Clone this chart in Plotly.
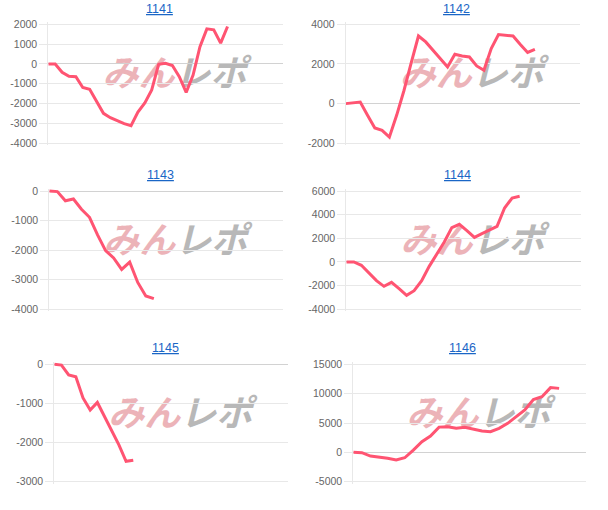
import plotly.graph_objects as go
from plotly.subplots import make_subplots

# machine numbers (chart titles)
MACHINES = ["1141", "1142", "1143", "1144", "1145", "1146"]

# cumulative difference per game day
DIFF_1141 = [0, 0, -420, -620, -640, -1190, -1280, -1880, -2490, -2710, -2880,
             -3010, -3110, -2430, -1960, -1310, -20, 30, -80, -640, -1430, -560,
             870, 1770, 1720, 1050, 1890]
DIFF_1142 = [0, 30, 80, -590, -1230, -1350, -1690, -590, 650, 2050, 3410, 3110,
             2690, 2270, 1850, 2490, 2400, 2350, 1900, 1680, 2780, 3480, 3450,
             3410, 2980, 2580, 2740]
DIFF_1143 = [0, -20, -330, -270, -620, -890, -1490, -2020, -2270, -2660, -2410,
             -3100, -3560, -3650]
DIFF_1144 = [0, 0, -280, -930, -1580, -2060, -1720, -2260, -2820, -2430, -1580,
             -370, 680, 1690, 2900, 3180, 2650, 2080, 2390, 2730, 3010, 4560,
             5410, 5550]
DIFF_1145 = [0, -20, -270, -320, -860, -1170, -975, -1340, -1680, -2060, -2480,
             -2450]
DIFF_1146 = [0, -60, -630, -800, -1020, -1310, -920, 390, 1810, 2780, 4300, 4370,
             4090, 4260, 3920, 3630, 3510, 4090, 4940, 6070, 7210, 9000, 9480,
             11030, 10900]

# y tick labels of each chart
TICKS_1141 = [-4000, -3000, -2000, -1000, 0, 1000, 2000]
TICKS_1142 = [-2000, 0, 2000, 4000]
TICKS_1143 = [-4000, -3000, -2000, -1000, 0]
TICKS_1144 = [-4000, -2000, 0, 2000, 4000, 6000]
TICKS_1145 = [-3000, -2000, -1000, 0]
TICKS_1146 = [-5000, 0, 5000, 10000, 15000]

SERIES = [DIFF_1141, DIFF_1142, DIFF_1143, DIFF_1144, DIFF_1145, DIFF_1146]
TICKS = [TICKS_1141, TICKS_1142, TICKS_1143, TICKS_1144, TICKS_1145, TICKS_1146]

W, H = 608, 510
# plot boxes in pixels: left, right, top, bottom
BOXES = [
    (48.3, 282.7, 24.3, 143.3),
    (345.7, 580.0, 24.3, 143.3),
    (49.3, 283.3, 191.0, 309.0),
    (346.3, 580.7, 191.0, 309.3),
    (54.3, 288.3, 364.3, 481.7),
    (353.3, 585.7, 364.3, 481.7),
]
X_SPAN = [34, 32.2, 29.1, 31.1, 32.6, 27.1]
TITLE_XY = [(159.3, 9), (456.3, 9), (160.3, 175), (457.3, 175.3),
            (165.7, 348.3), (462.3, 348.3)]

LINE_COLOR = "rgb(255, 84, 114)"
GRID = "#e8e8e8"
ZERO = "#d2d2d2"
FONT = "Liberation Sans, Arial, sans-serif"
PAD = 2  # px, keeps the thick line from being clipped at the edges

fig = make_subplots(rows=3, cols=2)

for i, (name, vals, ticks) in enumerate(zip(MACHINES, SERIES, TICKS)):
    row, col = i // 2 + 1, i % 2 + 1
    fig.add_trace(go.Scatter(
        x=list(range(len(vals))),
        y=vals,
        mode="lines",
        line=dict(color=LINE_COLOR, width=3),
        name=name,
        hoverinfo="y",
        showlegend=False,
    ), row=row, col=col)

    left, right, top, bottom = BOXES[i]
    ax = "" if i == 0 else str(i + 1)
    per_px = (ticks[-1] - ticks[0]) / (bottom - top)

    fig.layout["xaxis" + ax].update(
        domain=[left / W, right / W],
        range=[0, X_SPAN[i]],
        visible=False,
        automargin=False,
        fixedrange=True,
    )
    fig.layout["yaxis" + ax].update(
        domain=[1 - (bottom + PAD) / H, 1 - (top - PAD) / H],
        range=[ticks[0] - PAD * per_px, ticks[-1] + PAD * per_px],
        tickvals=ticks,
        ticktext=[str(t) for t in ticks],
        showgrid=True,
        gridcolor=GRID,
        gridwidth=1,
        zeroline=True,
        zerolinecolor=ZERO,
        zerolinewidth=1,
        showline=True,
        linecolor=GRID,
        ticks="outside",
        ticklen=8,
        tickcolor=GRID,
        tickfont=dict(family=FONT, size=10.5, color="#666666"),
        automargin=False,
        fixedrange=True,
    )

    # chart title (link style)
    tx, ty = TITLE_XY[i]
    fig.add_annotation(
        x=tx / W, y=1 - ty / H, xref="paper", yref="paper",
        text=f"<u>{name}</u>", showarrow=False,
        xanchor="center", yanchor="middle",
        font=dict(family=FONT, size=12.5, color="#1a66c6"),
    )

    # site watermark behind the line
    cx = (left + right) / 2 + 9
    cy = (top + bottom) / 2 - 7.5
    for dx, txt, color in [(-36, "みん", "#ecb3b8"), (36, "レポ", "#b8b8b8")]:
        fig.add_shape(
            type="rect", xref="paper", yref="paper",
            x0=(cx + dx - 36) / W, x1=(cx + dx + 36) / W,
            y0=1 - (cy + 15) / H, y1=1 - (cy - 15) / H,
            line=dict(width=0), fillcolor="rgba(0,0,0,0)", layer="below",
            label=dict(
                text=f"<b><i>{txt}</i></b>",
                textposition="middle center",
                font=dict(family="Noto Sans CJK JP", size=36, color=color),
            ),
        )

fig.update_layout(
    width=W, height=H,
    margin=dict(l=0, r=0, t=0, b=0),
    paper_bgcolor="white",
    plot_bgcolor="white",
    font=dict(family=FONT),
    hovermode="closest",
)

# the page body has a default 8px margin; drop it so the figure sits at 0,0
fig.write_html(
    "out.html",
    config={"displayModeBar": False},
    post_script="document.body.style.margin='0';",
)
